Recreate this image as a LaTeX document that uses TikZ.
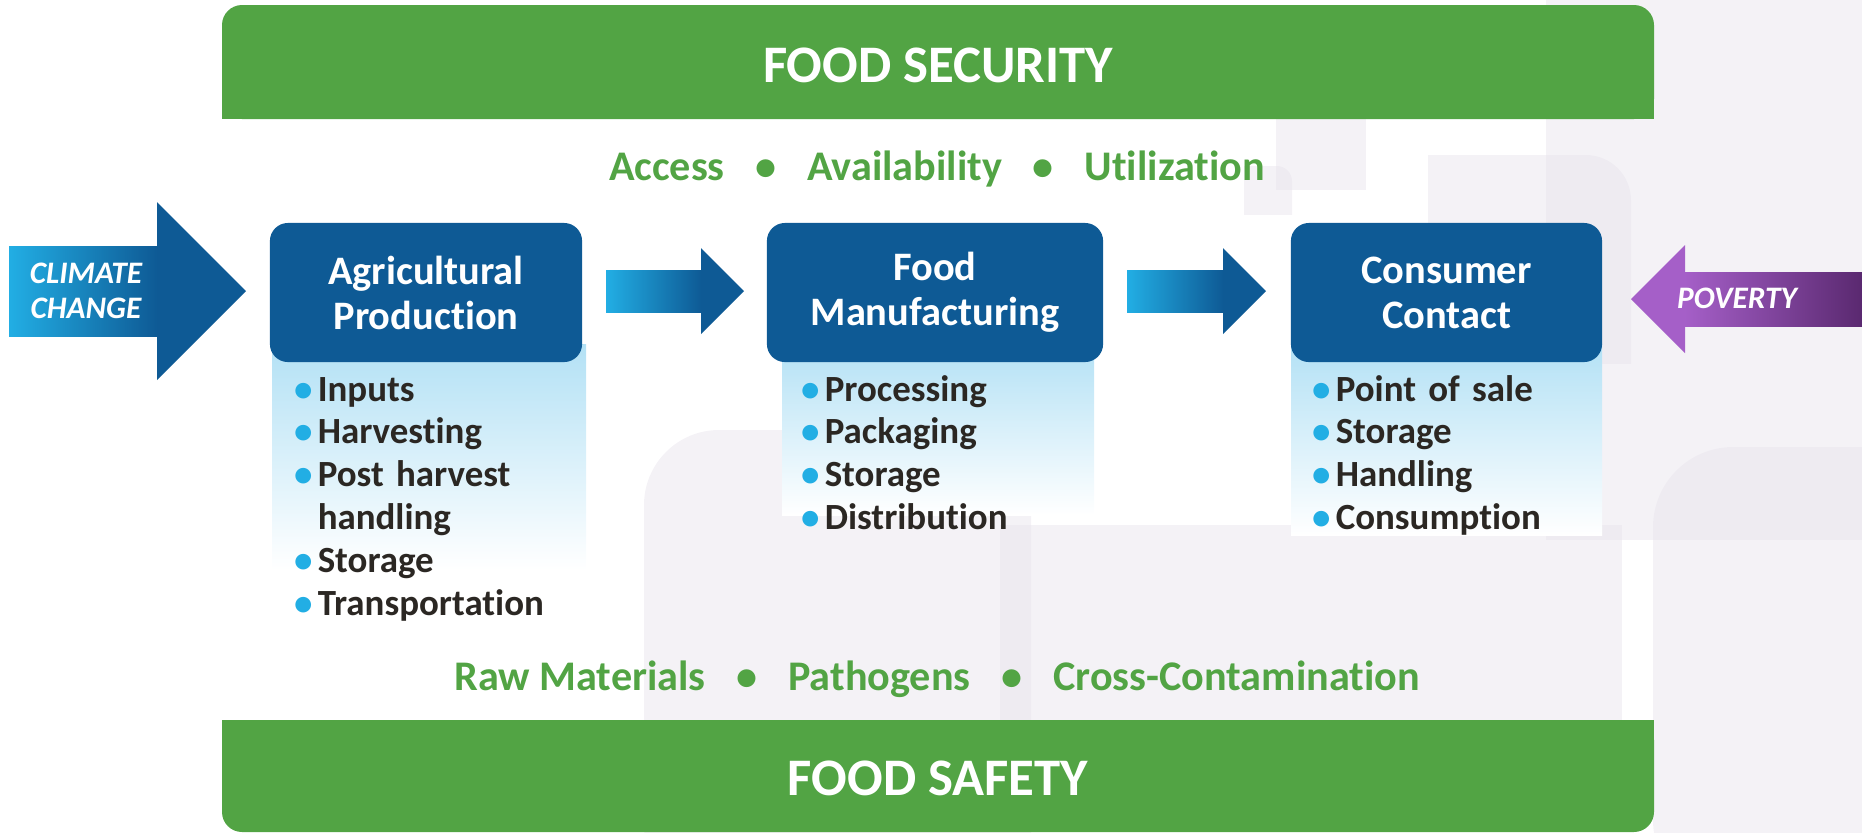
\documentclass[tikz,border=0pt]{standalone}
\usepackage{fontspec}
\setmainfont{Carlito}[Ligatures=NoCommon]

\definecolor{secgreen}{HTML}{52A444}
\definecolor{stageblue}{HTML}{0E5A95}
\definecolor{arrowcyan}{HTML}{22AEE4}
\definecolor{panelblue}{HTML}{B3E1F5}
\definecolor{povlight}{HTML}{A55FC8}
\definecolor{povdark}{HTML}{5A2970}
\definecolor{itemtext}{HTML}{2B2723}
\definecolor{bgtint}{HTML}{E9E5ED}

\tikzset{
  bgshape/.style={fill=bgtint, fill opacity=0.5},
  stagebox/.style={fill=stageblue, rounded corners=0.18cm, minimum height=1.39cm, inner sep=0pt,
    text=white, align=center, font=\bfseries\fontsize{11.5}{12.8}\selectfont},
  itemlist/.style={anchor=base west, text width=3cm, align=left, inner sep=0pt,
    text=itemtext, font=\bfseries\fontsize{10.5}{12.2}\selectfont},
  bartext/.style={text=white, font=\bfseries\fontsize{15}{18}\selectfont},
  pillars/.style={anchor=base, text=secgreen, font=\bfseries\fontsize{12}{14}\selectfont},
  forcetext/.style={text=white, align=center, font=\bfseries\itshape\fontsize{8.9}{10}\selectfont},
}

\newcommand\bul{\makebox[6.7pt][l]{\textcolor{arrowcyan}{\textbullet}}}
\newcommand\dotsep{\hspace{0.73em}\textbullet\hspace{0.73em}}

\begin{document}
\begin{tikzpicture}[x=0.01cm, y=-0.01cm]
\useasboundingbox (0,0) rectangle (1862,832);

\fill[bgshape] (1546,0) rectangle (1862,540);
\fill[bgshape] (1276,100) rectangle (1366,190);
\begin{scope}
  \clip (1244,166) rectangle (1292,214);
  \fill[bgshape, rounded corners=0.15cm] (1200,166) rectangle (1292,260);
\end{scope}
\begin{scope}
  \clip (1428,155) rectangle (1631,363);
  \fill[bgshape, rounded corners=0.45cm] (1380,155) rectangle (1631,420);
\end{scope}
\begin{scope}
  \clip (644,430) rectangle (1031,832);
  \fill[bgshape, rounded corners=0.75cm] (644,430) rectangle (1100,900);
\end{scope}
\fill[bgshape] (1000,525) rectangle (1622,832);
\begin{scope}
  \clip (1653,447) rectangle (1862,832);
  \fill[bgshape, rounded corners=0.8cm] (1653,447) rectangle (1950,900);
\end{scope}

\shade[top color=panelblue, bottom color=white] (272,344) rectangle (586,570);
\shade[top color=panelblue, bottom color=white] (782,344) rectangle (1094,515);
\shade[top color=panelblue, bottom color=white] (1291,344) rectangle (1602,535);

\node[stagebox, minimum width=3.12cm] (agri) at (426,292.5) {Agricultural\\Production};
\node[stagebox, minimum width=3.36cm] (manu) at (935,292.5) {Food\\Manufacturing};
\node[stagebox, minimum width=3.11cm] (cons) at (1446.5,292.5) {Consumer\\Contact};

\node[itemlist] (agrilist) at (293.5,401) {\bul Inputs\\ \bul Harvesting\\ \bul Post harvest\\ \hspace*{6.7pt}handling\\ \bul Storage\\ \bul Transportation};
\node[itemlist] (manulist) at (800.5,401) {\bul Processing\\ \bul Packaging\\ \bul Storage\\ \bul Distribution};
\node[itemlist] (conslist) at (1311.5,401) {\bul Point of sale\\ \bul Storage\\ \bul Handling\\ \bul Consumption};

\fill[stageblue] (9,246) -- (157,246) -- (157,202) -- (246,291) -- (157,380) -- (157,336) -- (9,336) -- cycle;
\shade[left color=arrowcyan, right color=stageblue] (9,246) rectangle (157.5,336);
\node[forcetext] (climate) at (86,291) {CLIMATE\\CHANGE};

\fill[stageblue] (606,270) -- (701,270) -- (701,248) -- (744,291) -- (701,334) -- (701,312) -- (606,312) -- cycle;
\shade[left color=arrowcyan, right color=stageblue] (606,270) rectangle (701.5,312);
\fill[stageblue] (1127,270) -- (1223,270) -- (1223,248) -- (1266,291) -- (1223,334) -- (1223,312) -- (1127,312) -- cycle;
\shade[left color=arrowcyan, right color=stageblue] (1127,270) rectangle (1223.5,312);

\fill[povlight] (1862,272) -- (1685,272) -- (1685,245) -- (1631,299) -- (1685,353) -- (1685,326) -- (1862,326) -- cycle;
\shade[left color=povlight, right color=povdark] (1684.5,272) rectangle (1862,326);
\node[forcetext] (poverty) at (1737,298) {POVERTY};

\node[pillars] (dimensions) at (937,180) {Access\dotsep Availability\dotsep Utilization};
\node[pillars] (hazards) at (937,690) {Raw Materials\dotsep Pathogens\dotsep Cross-Contamination};

\fill[secgreen, rounded corners=0.2cm] (222,5) rectangle (1654,119);
\fill[secgreen] (222,60) rectangle (1654,119);
\node[bartext] (security) at (938,65) {FOOD SECURITY};
\fill[secgreen, rounded corners=0.2cm] (222,720) rectangle (1654,832);
\fill[secgreen] (222,720) rectangle (1654,780);
\node[bartext] (safety) at (938,778) {FOOD SAFETY};
\end{tikzpicture}
\end{document}
